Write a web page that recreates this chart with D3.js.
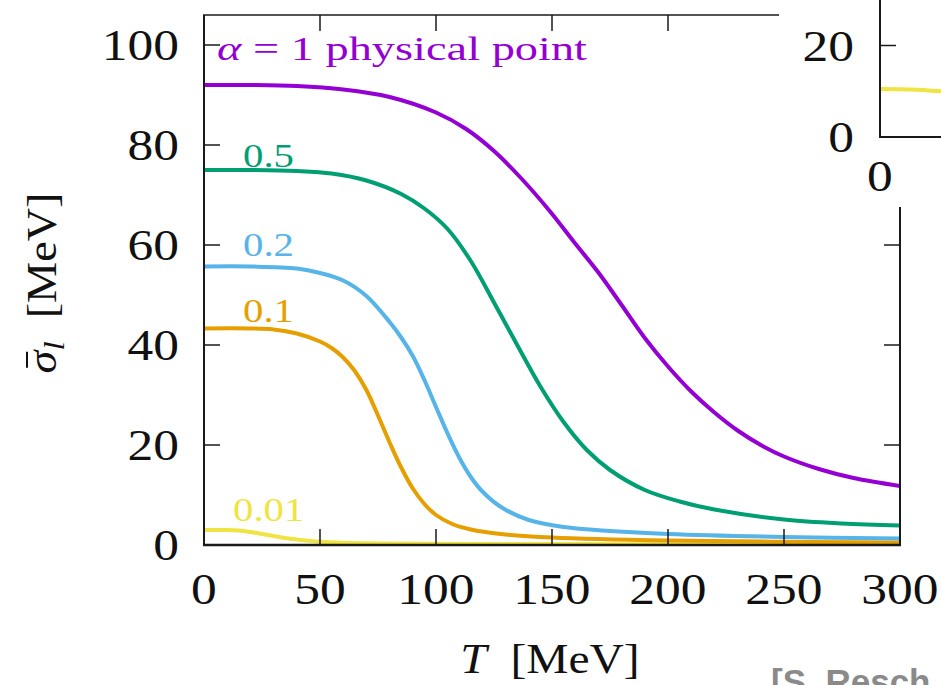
<!DOCTYPE html>
<html><head><meta charset="utf-8">
<script src="https://cdn.jsdelivr.net/npm/d3@7"></script>
<style>
html,body{margin:0;padding:0;background:#fff;overflow:hidden}
svg{display:block}
</style></head>
<body>
<svg id="c" width="941" height="685"></svg>
<script>
// ---- data ----
const seriesNames = ["α = 1 physical point", "0.5", "0.2", "0.1", "0.01"];
const seriesColors = ["#9400d3", "#009e73", "#56b4e9", "#e69f00", "#f0e442"];
const tPurple = [0,20,40,60,80,100,113,125,137,149,160,170,180,190,200,210,220,230,240,250,265,280,300];
const vPurple = [92,92,91.8,91.1,89.6,86.5,83.2,78.8,73.2,66.8,60.3,54.5,48,41.4,35.7,30.7,26.5,22.9,20.0,17.7,15.2,13.4,11.8];
const tGreen = [0,20,40,55,70,85,95,105,115,125,135,145,155,165,175,190,205,220,250,275,300];
const vGreen = [75,75,74.8,74.3,72.9,70.2,67.3,63.2,56.8,48.5,40.0,31.7,24.6,19.0,15.0,11.0,8.7,7.1,5.1,4.3,3.9];
const tBlue = [0,20,40,50,60,70,80,85,90,95,100,105,110,115,120,128,140,155,175,200,250,300];
const vBlue = [55.7,55.7,55.3,54.4,52.9,49.8,44.6,41.5,37.8,33,27.6,22.3,17.5,13.6,10.7,7.6,5.0,3.6,2.8,2.2,1.6,1.3];
const tOrange = [0,20,30,40,50,55,60,65,70,75,80,85,90,95,100,107,115,128,150,200,300];
const vOrange = [43.3,43.3,43.1,42.3,40.7,39.4,37.5,34.8,31.0,25.9,20.5,15.5,11.3,8.2,6.0,4.2,3.1,2.2,1.5,0.9,0.5];
const tYellow = [0,10,15,20,25,30,35,40,45,50,60,80,120,200,300];
const vYellow = [3,3,2.9,2.6,2.2,1.8,1.4,1.1,0.85,0.65,0.45,0.3,0.2,0.15,0.1];
const xTicks = [0,50,100,150,200,250,300];
const yTicks = [0,20,40,60,80,100];
const insetT = [0,15,30];
const insetV = [10.5,10.4,10.0];
const insetYTicks = [0,20];
const insetXTicks = [0];

const series = [
  {t:tPurple, v:vPurple}, {t:tGreen, v:vGreen}, {t:tBlue, v:vBlue},
  {t:tOrange, v:vOrange}, {t:tYellow, v:vYellow}
];

const svg = d3.select("#c");
const serif = "'Liberation Serif','DejaVu Serif',serif";
const WIDEN = 1.17; // Computer Modern is wider than Times
function widen(sel, k){
  sel.each(function(){
    const L = this.getComputedTextLength();
    d3.select(this).attr("textLength", L*(k||WIDEN)).attr("lengthAdjust","spacingAndGlyphs");
  });
  return sel;
}

// main scales
const x = d3.scaleLinear().domain([0,300]).range([204,900]);
const y = d3.scaleLinear().domain([0,100]).range([545,45]);

svg.append("defs").append("clipPath").attr("id","clip")
  .append("rect").attr("x",204).attr("y",15).attr("width",696).attr("height",530);

// curves
const line = d3.line().x(d=>x(d[0])).y(d=>y(d[1])).curve(d3.curveCatmullRom.alpha(0.5));
const gC = svg.append("g").attr("clip-path","url(#clip)");
series.slice().reverse().forEach((s,ri)=>{
  const i = series.length-1-ri;
  gC.append("path").datum(s.t.map((t,k)=>[t,s.v[k]]))
    .attr("d",line).attr("fill","none").attr("stroke",seriesColors[i])
    .attr("stroke-width",4).attr("stroke-linejoin","round");
});

// frame
const frame = svg.append("g").attr("stroke","#1a1a1a").attr("fill","none");
frame.append("line").attr("x1",204).attr("x2",204).attr("y1",15).attr("y2",546).attr("stroke-width",2);
frame.append("line").attr("x1",203).attr("x2",901).attr("y1",545).attr("y2",545).attr("stroke-width",2.5);
frame.append("line").attr("x1",203).attr("x2",900).attr("y1",15).attr("y2",15).attr("stroke-width",1.5);
frame.append("line").attr("x1",900).attr("x2",900).attr("y1",15).attr("y2",546).attr("stroke-width",2);

// ticks
const tl = 16;
xTicks.slice(1,-1).forEach(t=>{
  frame.append("line").attr("x1",x(t)).attr("x2",x(t)).attr("y1",y(0)).attr("y2",y(0)-tl).attr("stroke-width",1.5);
  frame.append("line").attr("x1",x(t)).attr("x2",x(t)).attr("y1",15).attr("y2",15+tl).attr("stroke-width",1.5);
});
yTicks.slice(1).forEach(v=>{
  frame.append("line").attr("x1",204).attr("x2",204+tl).attr("y1",y(v)).attr("y2",y(v)).attr("stroke-width",1.5);
  frame.append("line").attr("x1",900).attr("x2",900-tl).attr("y1",y(v)).attr("y2",y(v)).attr("stroke-width",1.5);
});

// tick labels
const fs = 44;
widen(svg.append("g").selectAll("text").data(xTicks).join("text")
  .attr("x",d=>x(d)).attr("y",604).attr("text-anchor","middle")
  .attr("font-family",serif).attr("font-size",fs).attr("fill","#111").text(d=>d));
widen(svg.append("g").selectAll("text").data(yTicks).join("text")
  .attr("x",179).attr("y",d=>y(d)+15).attr("text-anchor","end")
  .attr("font-family",serif).attr("font-size",fs).attr("fill","#111").text(d=>d));

// axis titles
const xt = svg.append("text").attr("x",550).attr("y",673).attr("text-anchor","middle")
  .attr("font-family",serif).attr("font-size",42).attr("fill","#111");
xt.append("tspan").attr("font-style","italic").text("T");
xt.append("tspan").text("\u2002[MeV]");
widen(xt, 1.13);

const yg = svg.append("g").attr("transform","translate(56,283) rotate(-90)");
const yt = yg.append("text").attr("x",0).attr("y",0)
  .attr("text-anchor","middle").attr("font-family",serif).attr("font-size",42).attr("fill","#111");
yt.append("tspan").attr("font-style","italic").text("\u03c3");
yt.append("tspan").attr("font-style","italic").attr("font-size",30).attr("dy",8).text("l");
yt.append("tspan").attr("dy",-8).text("\u2002[MeV]");
widen(yt, 1.1);
const ext = yt.node().getExtentOfChar(0);
yg.append("line").attr("x1",ext.x+ext.width*0.25).attr("x2",ext.x+ext.width*0.95)
  .attr("y1",-29).attr("y2",-29).attr("stroke","#111").attr("stroke-width",2);

// series labels
const labelPos = [[217,60],[243,167],[243,256],[243,322],[233,521]];
seriesNames.forEach((n,i)=>{
  const t = svg.append("text").attr("x",labelPos[i][0]).attr("y",labelPos[i][1])
    .attr("font-family",serif).attr("font-size",34).attr("fill",seriesColors[i]);
  if(i===0){
    t.append("tspan").attr("font-style","italic").text("α");
    t.append("tspan").text(" = 1 physical point");
    t.attr("textLength",370).attr("lengthAdjust","spacingAndGlyphs");
  } else { t.text(n); widen(t, 1.2); }
});

// inset panel (second figure overlapping)
svg.append("rect").attr("x",779).attr("y",0).attr("width",162).attr("height",207).attr("fill","#fff");
const ix = d3.scaleLinear().domain([0,30]).range([880,941]);
const iy = d3.scaleLinear().domain([0,20]).range([137,45.5]);
svg.append("path").datum(insetT.map((t,k)=>[t,insetV[k]]))
  .attr("d",d3.line().x(d=>ix(d[0])).y(d=>iy(d[1])).curve(d3.curveMonotoneX))
  .attr("fill","none").attr("stroke","#f0e442").attr("stroke-width",4);
const ig = svg.append("g").attr("stroke","#1a1a1a");
ig.append("line").attr("x1",880).attr("x2",880).attr("y1",0).attr("y2",138).attr("stroke-width",2);
ig.append("line").attr("x1",879).attr("x2",941).attr("y1",137).attr("y2",137).attr("stroke-width",2);
insetYTicks.slice(1).forEach(v=>{
  ig.append("line").attr("x1",880).attr("x2",896).attr("y1",iy(v)).attr("y2",iy(v)).attr("stroke-width",1.5);
});
widen(svg.append("g").selectAll("text").data(insetYTicks).join("text")
  .attr("x",854).attr("y",d=>iy(d)+15).attr("text-anchor","end")
  .attr("font-family",serif).attr("font-size",fs).attr("fill","#111").text(d=>d));
widen(svg.append("g").selectAll("text").data(insetXTicks).join("text")
  .attr("x",d=>ix(d)).attr("y",191).attr("text-anchor","middle")
  .attr("font-family",serif).attr("font-size",fs).attr("fill","#111").text(d=>d));

// credit (cut off by the picture edge, as in the reference)
svg.append("text").attr("x",771).attr("y",694)
  .attr("font-family","'Liberation Sans',Arial,sans-serif").attr("font-weight","bold")
  .attr("font-size",35).attr("fill","#8a8a8a").text("[S. Resch, F. Rennecke, B.-J. Schaefer]");
</script>
</body></html>
